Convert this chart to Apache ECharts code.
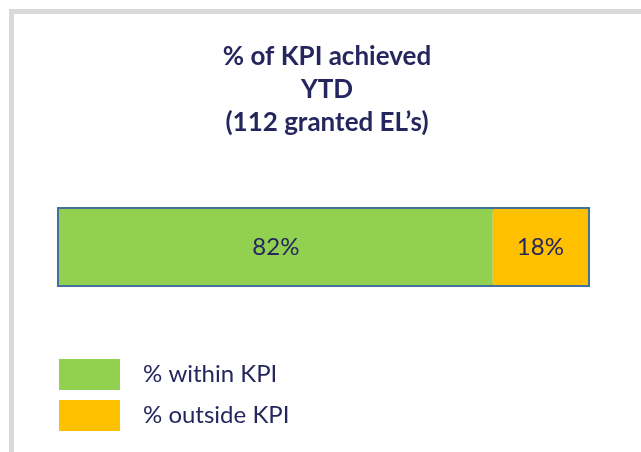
<!DOCTYPE html>
<html>
<head>
<meta charset="utf-8">
<script src="https://cdn.jsdelivr.net/npm/echarts@6/dist/echarts.min.js"></script>
<style>
  html, body { margin: 0; padding: 0; background: #fff; }
  #chart { width: 641px; height: 452px; }
</style>
</head>
<body>
<div id="chart"></div>
<script>
  // data
  const categories = ['KPI'];
  const seriesNames = ['% within KPI', '% outside KPI'];
  const withinValues = [82];
  const outsideValues = [18];

  const navy = '#26265E';

  const chart = echarts.init(document.getElementById('chart'));
  chart.setOption({
    animation: false,
    textStyle: { fontFamily: 'Lato' },
    title: {
      text: '% of KPI achieved\nYTD\n(112 granted EL\u2019s)',
      left: 322,
      top: 35,
      textAlign: 'center',
      textStyle: {
        fontFamily: 'Lato',
        fontWeight: 'bold',
        fontSize: 26,
        lineHeight: 33,
        color: navy
      }
    },
    graphic: [{
      // grey frame around the chart
      type: 'rect',
      shape: { x: 11.5, y: 11.5, width: 700, height: 500 },
      style: { fill: 'none', stroke: '#D9D9D9', lineWidth: 5 },
      silent: true
    }],
    legend: {
      orient: 'vertical',
      left: 54,
      top: 354,
      itemWidth: 61,
      itemHeight: 31,
      itemGap: 10,
      icon: 'rect',
      data: seriesNames,
      textStyle: {
        fontFamily: 'Lato',
        fontSize: 24,
        color: navy,
        padding: [0, 0, 0, 18]
      }
    },
    grid: {
      left: 59,
      right: 53,
      top: 209,
      height: 76,
      show: true,
      borderColor: '#41719C',
      borderWidth: 4,
      backgroundColor: 'transparent'
    },
    xAxis: {
      type: 'value',
      min: 0,
      max: 100,
      show: false
    },
    yAxis: {
      type: 'category',
      data: categories,
      show: false
    },
    series: [
      {
        name: seriesNames[0],
        type: 'bar',
        stack: 'kpi',
        barWidth: '100%',
        data: withinValues,
        itemStyle: { color: '#92D050' },
        label: {
          show: true,
          position: 'inside',
          formatter: '{c}%',
          fontFamily: 'Lato',
          fontSize: 24,
          color: navy
        }
      },
      {
        name: seriesNames[1],
        type: 'bar',
        stack: 'kpi',
        barWidth: '100%',
        data: outsideValues,
        itemStyle: { color: '#FFC000' },
        label: {
          show: true,
          position: 'inside',
          formatter: '{c}%',
          fontFamily: 'Lato',
          fontSize: 24,
          color: navy
        }
      }
    ]
  });
</script>
</body>
</html>
